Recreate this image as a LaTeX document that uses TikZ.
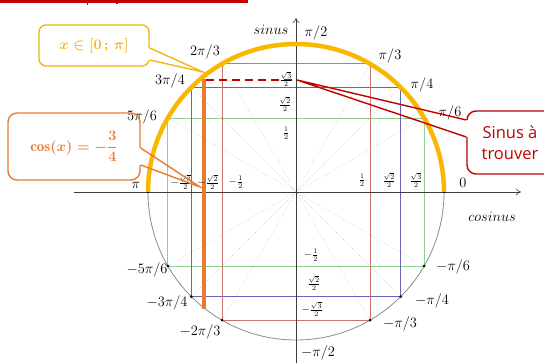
\documentclass[tikz,border=0pt]{standalone}
\usepackage{fontspec}
\usepackage{amsmath}
\newfontfamily\calloutfont{Open Sans}
\usetikzlibrary{arrows.meta}
\definecolor{barred}{RGB}{192,0,0}
\definecolor{redL}{RGB}{208,112,112}
\definecolor{blueL}{RGB}{100,100,190}
\definecolor{greenL}{RGB}{140,210,140}
\definecolor{yarcC}{RGB}{249,184,0}
\definecolor{calY}{RGB}{240,182,20}
\definecolor{calO}{RGB}{232,122,50}
\definecolor{axisC}{RGB}{60,60,60}
\newcommand{\semic}{\mathpunct{\mathchar"603B}}
\begin{document}
\begin{tikzpicture}[x=1pt,y=1pt,
  lab/.style={font=\fontsize{14}{16}\selectfont, inner sep=0pt},
  small/.style={font=\fontsize{10.5}{12}\selectfont, inner sep=0pt},
  rectR/.style={draw=redL, line width=0.7pt},
  rectB/.style={draw=blueL, line width=0.7pt},
  rectG/.style={draw=greenL, line width=0.7pt},
  diam/.style={draw=gray!70, dotted, line width=0.5pt},
  circ/.style={draw=gray!90, line width=0.8pt},
  axisline/.style={draw=axisC, line width=0.6pt, -{To[length=5pt,width=7pt]}},
  yarc/.style={draw=yarcC, line width=4.5pt},
  orangeline/.style={draw=calO, line width=4pt},
  dashred/.style={draw=barred, line width=2.5pt, dash pattern=on 8pt off 5pt},
  boxY/.style={draw=calY, line width=1.4pt, rounded corners=7pt, minimum width=110pt, minimum height=41pt, inner sep=0pt},
  boxO/.style={draw=calO, line width=1.4pt, rounded corners=9pt, minimum width=132pt, minimum height=67pt, inner sep=0pt},
  boxR/.style={draw=barred, line width=1.4pt, rounded corners=9pt, minimum width=86pt, minimum height=63pt, inner sep=0pt},
  ptrY/.style={draw=calY, line width=1.4pt, line join=miter},
  ptrO/.style={draw=calO, line width=1.4pt, line join=miter},
  ptrR/.style={draw=barred, line width=1.4pt, line join=miter},
  gapfill/.style={draw=white, line width=2.6pt}
]
\useasboundingbox (0,0) rectangle (544,363);
\clip (0,0) rectangle (544,363);
% top bar
\coordinate (barA) at (0,361.5);
\coordinate (barB) at (248,361.5);
\draw[barred, line width=2.6pt] (barA) -- (barB);
\coordinate (mkA) at (87.5,363);
\coordinate (mkB) at (87.5,358);
\coordinate (mkC) at (117,363);
\coordinate (mkD) at (117,359);
\draw[barred, line width=1.2pt] (mkA) -- (mkB);
\draw[barred, line width=1.2pt] (mkC) -- (mkD);

\begin{scope}[shift={(296,171)}]
\coordinate (O) at (0,0);
\foreach \a in {0,30,45,60,90,120,135,150,180} \coordinate (p\a) at (\a:148pt);
\foreach \a in {30,45,60,90,120,135,150} \coordinate (pm\a) at (-\a:148pt);
% coloured rectangles
\draw[rectG] (p150) -- (p30) -- (pm30) -- (pm150) -- cycle;
\draw[rectB] (p135) -- (p45) -- (pm45) -- (pm135) -- cycle;
\draw[rectR] (p120) -- (p60) -- (pm60) -- (pm120) -- cycle;
% diameters
\draw[diam] (p30) -- (pm150);
\draw[diam] (p45) -- (pm135);
\draw[diam] (p60) -- (pm120);
\draw[diam] (p120) -- (pm60);
\draw[diam] (p135) -- (pm45);
\draw[diam] (p150) -- (pm30);
% circle
\draw[circ] (O) circle[radius=148pt];
% axes
\coordinate (xa) at (-222,0);
\coordinate (xb) at (225,0);
\coordinate (ya) at (0,-172);
\coordinate (yb) at (0,174);
\draw[axisline] (xa) -- (xb);
\draw[axisline] (ya) -- (yb);
% dots
\foreach \a in {p0,p30,p45,p60,p120,p135,p150,p180,pm30,pm45,pm60,pm120,pm135,pm150}
  \fill[black] (\a) circle[radius=1.5pt];
% yellow arc
\draw[yarc] (p0) arc[start angle=0, end angle=180, radius=148pt];
% orange chord
\coordinate (ot) at (-92,113);
\coordinate (ob) at (-92,-117);
\draw[orangeline] (ot) -- (ob);
% dashed sine
\coordinate (st) at (-90,112);
\coordinate (sv) at (1,112);
\draw[dashred] (st) -- (sv);
\end{scope}

% angle labels
\node[lab] (lsin) at (271,333) {$sinus$};
\node[lab] (lcos) at (492,146) {$cosinus$};
\node[lab] (l90) at (316,330) {$\pi/2$};
\node[lab] (l60) at (390,307) {$\pi/3$};
\node[lab] (l45) at (422,278) {$\pi/4$};
\node[lab] (l30) at (450,250) {$\pi/6$};
\node[lab] (l0) at (463,180) {$0$};
\node[lab] (l120) at (205,311) {$2\pi/3$};
\node[lab] (l135) at (170,282) {$3\pi/4$};
\node[lab] (l150) at (142,246) {$5\pi/6$};
\node[lab] (l180) at (136,178) {$\pi$};
\node[lab] (lm150) at (147,93) {$-5\pi/6$};
\node[lab] (lm135) at (167,60) {$-3\pi/4$};
\node[lab] (lm120) at (200,31) {$-2\pi/3$};
\node[lab] (lm30) at (453,96) {$-\pi/6$};
\node[lab] (lm45) at (432,62) {$-\pi/4$};
\node[lab] (lm60) at (400,39) {$-\pi/3$};
\node[lab] (lm90) at (318,10) {$-\pi/2$};

% small value labels
\node[small] (s3) at (286,284) {$\frac{\sqrt{3}}{2}$};
\node[small] (s2) at (285,259) {$\frac{\sqrt{2}}{2}$};
\node[small] (s1) at (286,230) {$\frac{1}{2}$};
\node[small] (sm1) at (311,108) {$-\frac{1}{2}$};
\node[small] (sm2) at (314,80) {$\frac{\sqrt{2}}{2}$};
\node[small] (sm3) at (312,54) {$-\frac{\sqrt{3}}{2}$};
\node[small] (c1) at (362,183) {$\frac{1}{2}$};
\node[small] (c2) at (389,183) {$\frac{\sqrt{2}}{2}$};
\node[small] (c3) at (416,183) {$\frac{\sqrt{3}}{2}$};
\node[small] (cm3) at (181,181) {$-\frac{\sqrt{3}}{2}$};
\node[small] (cm2) at (208,181) {$-\frac{\sqrt{2}}{2}$};
\node[small] (cm1) at (236,181) {$-\frac{1}{2}$};

% yellow callout
\node[boxY, text=calY, font=\fontsize{14}{16}\selectfont\boldmath] (cy) at (94,317.5) {$x\in[0\,\semic\,\pi]$};
\coordinate (ytip) at (203,291);
\draw[gapfill] ([yshift=-2.5pt]cy.east) -- ([yshift=-14.5pt]cy.east);
\draw[ptrY] ([yshift=-2.5pt]cy.east) -- (ytip) -- ([yshift=-14.5pt]cy.east);

% orange callout
\node[boxO, text=calO, font=\fontsize{15}{17}\selectfont\boldmath] (co) at (74,216.5) {$\cos(x)=-\dfrac{3}{4}$};
\coordinate (otip) at (200,176);
\draw[gapfill] ([yshift=-1.5pt]co.east) -- ([yshift=-18.5pt]co.east);
\draw[ptrO] ([yshift=-1.5pt]co.east) -- (otip) -- ([yshift=-18.5pt]co.east);

% red callout
\node[boxR, align=center, text=barred, font=\calloutfont\fontsize{16.5}{21}\selectfont] (cr) at (510,220.5) {Sinus à\\trouver};
\draw[gapfill] ([yshift=22.5pt]cr.west) -- ([yshift=5.5pt]cr.west);
\draw[ptrR] ([yshift=22.5pt]cr.west) -- (sv) -- ([yshift=5.5pt]cr.west);
\end{tikzpicture}
\end{document}
